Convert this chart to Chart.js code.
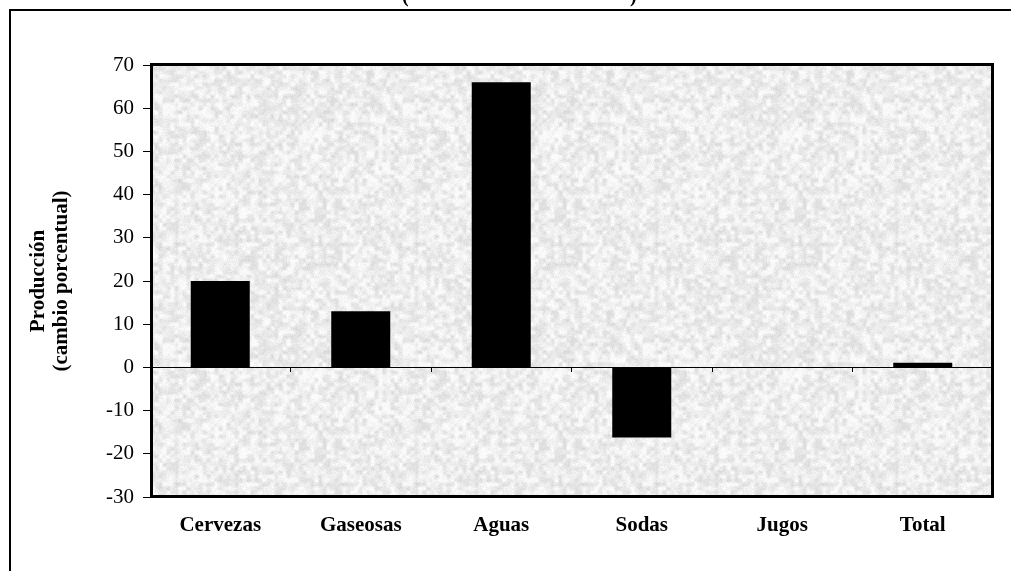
<!DOCTYPE html>
<html>
<head>
<meta charset="utf-8">
<script src="https://cdn.jsdelivr.net/npm/chart.js@4.4.1/dist/chart.umd.min.js"></script>
<style>
  html, body { margin: 0; padding: 0; background: #fff; }
  #wrap { width: 1011px; height: 571px; position: relative; }
</style>
</head>
<body>
<div id="wrap"><canvas id="c"></canvas></div>
<script>
// Beverage production, percentage change by product
const categories = ['Cervezas', 'Gaseosas', 'Aguas', 'Sodas', 'Jugos', 'Total'];
const produccion = [20, 13, 66, -16.2, 0, 1.1];
const yTitle = ['Producción', '(cambio porcentual)'];
const yMin = -30, yMax = 70, yStep = 10;

const SERIF = '"Liberation Serif", "Times New Roman", serif';

// Grainy light-grey fill for the plot area
function makeTexture() {
  const size = 240, cell = 4, period = size / cell;
  const cv = document.createElement('canvas');
  cv.width = size; cv.height = size;
  const cx = cv.getContext('2d');
  const img = cx.createImageData(size, size);
  function hash(x, y) {
    let h = (x * 374761393 + y * 668265263) | 0;
    h = Math.imul(h ^ (h >>> 13), 1274126177);
    h = h ^ (h >>> 16);
    return (h >>> 0) / 4294967296;
  }
  function lattice(i, j) { return hash(((i % period) + period) % period, ((j % period) + period) % period); }
  function smooth(x, y) {
    const i = Math.floor(x), j = Math.floor(y);
    const fx = x - i, fy = y - j;
    const sx = fx * fx * (3 - 2 * fx), sy = fy * fy * (3 - 2 * fy);
    const a = lattice(i, j), b = lattice(i + 1, j), c = lattice(i, j + 1), d = lattice(i + 1, j + 1);
    return (a * (1 - sx) + b * sx) * (1 - sy) + (c * (1 - sx) + d * sx) * sy;
  }
  for (let y = 0; y < size; y++) {
    for (let x = 0; x < size; x++) {
      const v = 0.7 * smooth(x / cell, y / cell) + 0.3 * hash(x + 911, y + 377);
      const g = Math.min(252, Math.round(212 + v * 50));
      const k = (y * size + x) * 4;
      img.data[k] = g; img.data[k + 1] = g; img.data[k + 2] = g; img.data[k + 3] = 255;
    }
  }
  cx.putImageData(img, 0, 0);
  return cv;
}
const textureCanvas = makeTexture();

const framePlugin = {
  id: 'frame',
  beforeDraw(chart) {
    const ctx = chart.ctx, a = chart.chartArea;
    ctx.save();
    ctx.fillStyle = '#ffffff';
    ctx.fillRect(0, 0, chart.width, chart.height);
    // outer sheet border (top and left edges)
    ctx.strokeStyle = '#000';
    ctx.lineWidth = 2;
    ctx.beginPath();
    ctx.moveTo(10, chart.height);
    ctx.lineTo(10, 10);
    ctx.lineTo(chart.width, 10);
    ctx.stroke();
    // clipped heading above the sheet
    ctx.fillStyle = '#000';
    ctx.font = 'bold 20px ' + SERIF;
    ctx.textBaseline = 'alphabetic';
    ctx.textAlign = 'left';
    ctx.fillText('(', 402, 2);
    ctx.fillText(')', 630, 2);
    // textured plot background
    ctx.fillStyle = ctx.createPattern(textureCanvas, 'repeat');
    ctx.fillRect(a.left, a.top, a.right - a.left, a.bottom - a.top);
    ctx.restore();
  },
  afterDatasetsDraw(chart) {
    const ctx = chart.ctx, a = chart.chartArea;
    ctx.save();
    ctx.strokeStyle = '#000';
    ctx.lineWidth = 3;
    ctx.strokeRect(a.left + 1.5, a.top - 0.5, a.right - a.left - 2, a.bottom - a.top);
    ctx.restore();
  }
};

new Chart(document.getElementById('c'), {
  type: 'bar',
  data: {
    labels: categories,
    datasets: [{
      data: produccion,
      backgroundColor: '#000',
      borderWidth: 0,
      barPercentage: 0.42,
      categoryPercentage: 1.0,
      xAxisID: 'x'
    }]
  },
  options: {
    responsive: true,
    maintainAspectRatio: false,
    animation: false,
    events: [],
    layout: { padding: { top: 65, right: 18, left: 14, bottom: 14 } },
    plugins: { legend: { display: false }, tooltip: { enabled: false }, title: { display: false } },
    scales: {
      x: {
        type: 'category',
        position: 'bottom',
        offset: true,
        grid: { display: false, drawTicks: false },
        border: { display: false },
        ticks: {
          color: '#000',
          font: { family: SERIF, size: 21, weight: 'bold' },
          padding: 16,
          maxRotation: 0,
          autoSkip: false
        },
        afterFit(scale) { scale.height = 60; }
      },
      x0: {
        type: 'category',
        position: { y: 0 },
        offset: true,
        grid: {
          display: true,
          offset: true,
          drawOnChartArea: false,
          drawTicks: true,
          tickLength: 4,
          color: '#000',
          lineWidth: 1
        },
        border: { display: true, color: '#000', width: 1 },
        ticks: { display: false }
      },
      y: {
        type: 'linear',
        position: 'left',
        min: yMin,
        max: yMax,
        grid: {
          drawOnChartArea: false,
          drawTicks: true,
          tickLength: 7,
          color: '#000',
          lineWidth: 1
        },
        border: { display: false },
        ticks: {
          stepSize: yStep,
          color: '#000',
          font: { family: SERIF, size: 21 },
          padding: 9
        },
        title: {
          display: true,
          text: yTitle,
          color: '#000',
          font: { family: SERIF, size: 21, weight: 'bold', lineHeight: 1.1 },
          padding: { top: 13, bottom: 0 }
        },
        afterFit(scale) { scale.width = 136; }
      }
    }
  },
  plugins: [framePlugin]
});
</script>
</body>
</html>
